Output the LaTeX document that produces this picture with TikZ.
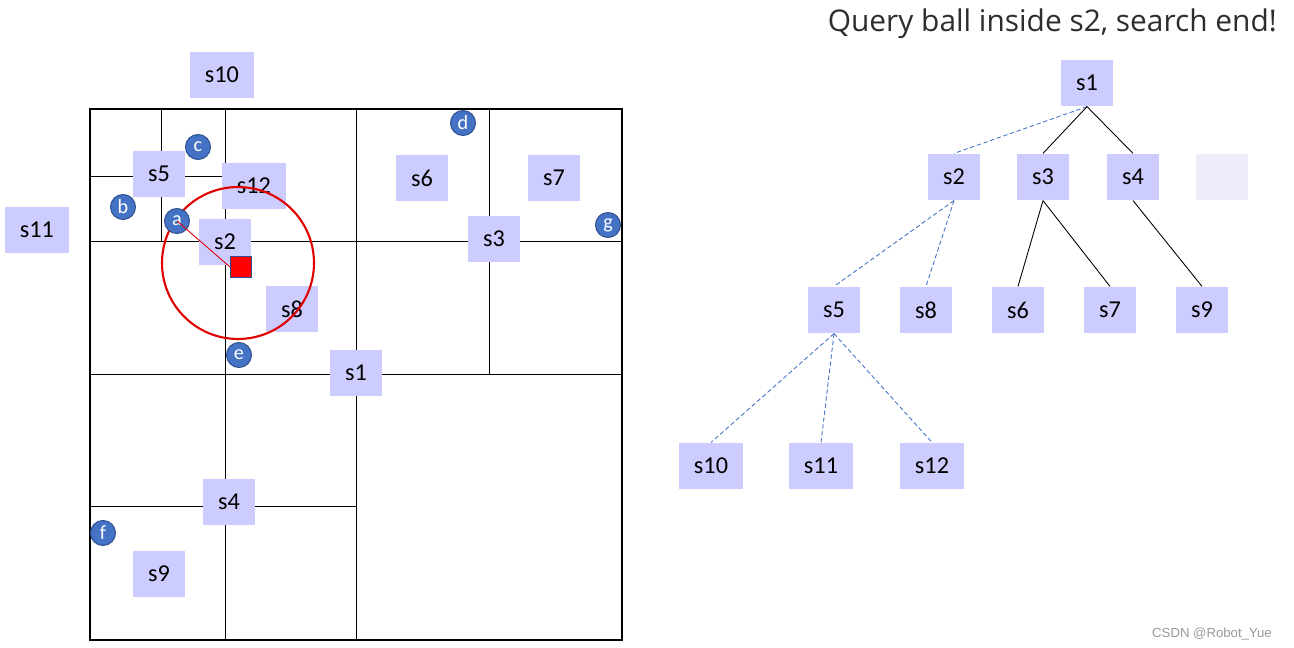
\documentclass[tikz,border=0pt]{standalone}
\usepackage{fontspec}
\setmainfont{Carlito}
\newfontfamily\titlefont{Open Sans}
\newfontfamily\markfont{Liberation Sans}
\usepackage{tikz}
\definecolor{boxblue}{RGB}{204,204,255}
\definecolor{boxfaint}{RGB}{236,236,250}
\definecolor{ptblue}{RGB}{68,114,196}
\definecolor{ptedge}{RGB}{47,82,143}
\definecolor{ballred}{RGB}{225,0,0}
\definecolor{titlegray}{RGB}{45,45,45}
\tikzset{
  sbox/.style={rectangle, fill=boxblue, minimum width=1.04cm, minimum height=0.93cm,
    inner sep=0pt, font=\fontsize{13.8}{15}\selectfont},
  wbox/.style={sbox, minimum width=1.29cm},
  pt/.style={circle, fill=ptblue, draw=ptedge, line width=0.6pt, minimum size=0.5cm,
    inner sep=0pt, text=white, font=\fontsize{11.5}{12}\selectfont},
  split/.style={line width=0.5pt},
  tree/.style={line width=0.5pt},
  probe/.style={tree, color=ptblue, dash pattern=on 2.5pt off 1.5pt}
}

\begin{document}
\begin{tikzpicture}[x=0.02cm, y=-0.02cm]
    \useasboundingbox (0,0) rectangle (1294,648);

    % Space split
    \draw[split] (356,109) -- (356,640);
    \draw[split] (90,374) -- (622,374);
    \draw[split] (225,109) -- (225,640);
    \draw[split] (90,241) -- (356,241);
    \draw[split] (356,241) -- (622,241);
    \draw[split] (489,109) -- (489,374);
    \draw[split] (90,506) -- (356,506);
    \draw[split] (161,109) -- (161,241);
    \draw[split] (90,176) -- (225,176);
    \draw[line width=1.2pt] (90,109) rectangle (622,640);

    % Balls
    \node[sbox] (p1) at (356,373) {s1};
    \node[sbox] (p2) at (225,242) {s2};
    \node[sbox] (p3) at (494,239) {s3};
    \node[sbox] (p4) at (229,502) {s4};
    \node[sbox] (p5) at (159,174) {s5};
    \node[sbox] (p6) at (422,178) {s6};
    \node[sbox] (p7) at (554,178) {s7};
    \node[sbox] (p8) at (292,309) {s8};
    \node[sbox] (p9) at (159,574) {s9};
    \node[wbox] (p10) at (222,75) {s10};
    \node[wbox] (p11) at (37,230) {s11};
    \node[wbox] (p12) at (254,186) {s12};

    % Query ball
    \coordinate (qc) at (238,263);
    \draw[ballred, line width=1.2pt] (qc) circle (1.52cm);

    % Points
    \node[pt] (a) at (177,221) {a};
    \node[pt] (b) at (123,207) {b};
    \node[pt] (c) at (198,147) {c};
    \node[pt] (d) at (463,123) {d};
    \node[pt] (e) at (239,355) {e};
    \node[pt] (f) at (103,533) {f};
    \node[pt] (g) at (608,225) {g};

    \node[rectangle, fill=red, draw=ptedge, line width=0.6pt, minimum size=0.42cm,
      inner sep=0pt] (q) at (241,267) {};
    \draw[ballred, line width=0.5pt] (a.center) -- (q.west);

    % Title
    \node[anchor=base east, text=titlegray, font=\titlefont\fontsize{17}{20}\selectfont]
      (title) at (1283,32) {Query ball inside s2, search end!};

    % Tree
    \node[sbox] (t1) at (1087,83) {s1};
    \node[sbox] (t2) at (954,177) {s2};
    \node[sbox] (t3) at (1043,177) {s3};
    \node[sbox] (t4) at (1133,177) {s4};
    \node[sbox, fill=boxfaint] (tx) at (1222,177) {};
    \node[sbox] (t5) at (834,310) {s5};
    \node[sbox] (t8) at (926,310) {s8};
    \node[sbox] (t6) at (1018,310) {s6};
    \node[sbox] (t7) at (1110,310) {s7};
    \node[sbox] (t9) at (1202,310) {s9};
    \node[wbox] (t10) at (711,466) {s10};
    \node[wbox] (t11) at (821,466) {s11};
    \node[wbox] (t12) at (932,466) {s12};

    \draw[probe] (t1.south) -- (t2.north);
    \draw[tree] (t1.south) -- (t3.north);
    \draw[tree] (t1.south) -- (t4.north);
    \draw[probe] (t2.south) -- (t5.north);
    \draw[probe] (t2.south) -- (t8.north);
    \draw[tree] (t3.south) -- (t6.north);
    \draw[tree] (t3.south) -- (t7.north);
    \draw[tree] (t4.south) -- (t9.north);
    \draw[probe] (t5.south) -- (t10.north);
    \draw[probe] (t5.south) -- (t11.north);
    \draw[probe] (t5.south) -- (t12.north);

    % Mark
    \node[anchor=base east, text=black!40, font=\markfont\fontsize{7.5}{9}\selectfont]
      (mark) at (1278,637) {CSDN @Robot\_Yue};
  \end{tikzpicture}
\end{document}
